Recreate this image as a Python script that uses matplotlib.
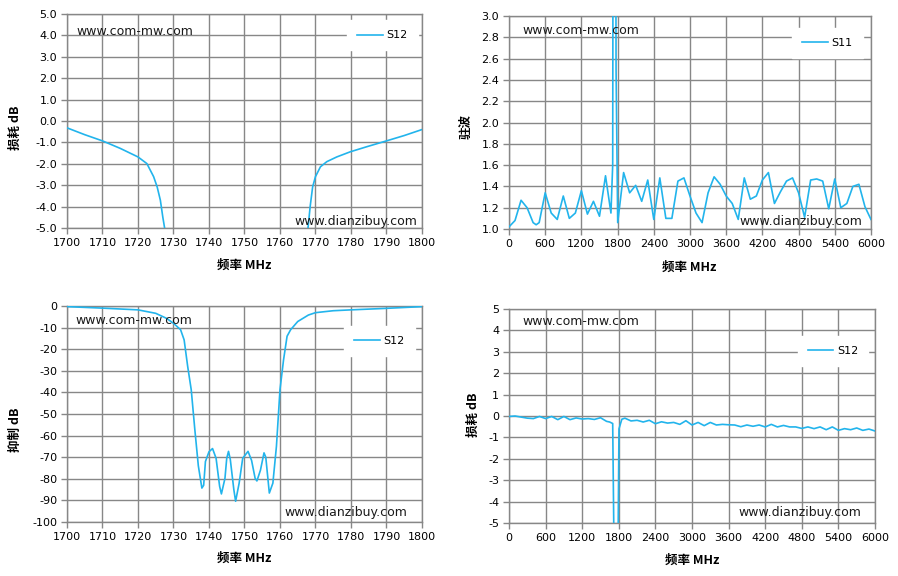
import matplotlib
matplotlib.use('Agg')
import matplotlib.pyplot as plt
import numpy as np

# 左上: S12 损耗 1700-1800 MHz
tl_freq = [1700, 1705, 1710, 1715, 1720, 1722.5, 1724.4, 1725.4, 1726.3, 1727, 1727.5, 1730,
           1750, 1766, 1767.9, 1768.5, 1769.2, 1770, 1771.4, 1773.2, 1776, 1779.8, 1784.5, 1790, 1795, 1800]
tl_s12 = [-0.32, -0.64, -0.93, -1.28, -1.68, -1.99, -2.6, -3.08, -3.7, -4.5, -5.0, -8.0,
          -80.0, -7.0, -5.0, -4.0, -3.08, -2.6, -2.14, -1.9, -1.68, -1.44, -1.2, -0.93, -0.68, -0.4]

# 右上: S11 驻波 0-6000 MHz
tr_freq = [0, 100, 200, 300, 400, 450, 500, 600, 700, 800, 900, 1000, 1100, 1200, 1300, 1400,
           1500, 1600, 1690, 1719, 1725, 1770, 1775, 1802, 1900, 2000, 2100, 2200, 2300, 2400,
           2500, 2600, 2700, 2800, 2900, 3000, 3100, 3200, 3300, 3400, 3500, 3600, 3700, 3800,
           3900, 4000, 4100, 4200, 4300, 4400, 4500, 4600, 4700, 4800, 4900, 5000, 5100, 5200,
           5300, 5400, 5500, 5600, 5700, 5800, 5900, 6000]
tr_s11 = [1.02, 1.08, 1.27, 1.20, 1.06, 1.04, 1.06, 1.34, 1.15, 1.09, 1.31, 1.10, 1.15, 1.36,
          1.14, 1.26, 1.12, 1.50, 1.15, 1.6, 4.0, 4.0, 2.5, 1.06, 1.53, 1.34, 1.41, 1.26, 1.46,
          1.09, 1.48, 1.10, 1.10, 1.45, 1.48, 1.31, 1.15, 1.06, 1.34, 1.49, 1.42, 1.31, 1.24,
          1.09, 1.48, 1.28, 1.31, 1.46, 1.53, 1.24, 1.35, 1.45, 1.48, 1.34, 1.11, 1.46, 1.47,
          1.45, 1.19, 1.47, 1.20, 1.24, 1.40, 1.42, 1.21, 1.09]

# 左下: S12 抑制 1700-1800 MHz
bl_freq = [1700, 1710, 1720, 1725, 1728, 1730, 1732, 1733, 1734, 1735, 1736, 1737, 1738, 1738.5,
           1739, 1740, 1741, 1742, 1743, 1743.5, 1744.5, 1745, 1745.5, 1746, 1747, 1747.5, 1748.5,
           1749.5, 1751, 1752, 1753, 1753.5, 1754.5, 1755.5, 1756, 1757, 1758, 1759, 1760, 1761,
           1762, 1763, 1765, 1768, 1770, 1775, 1780, 1790, 1800]
bl_s12 = [-0.3, -1.0, -1.8, -3.4, -5.7, -8.0, -11.0, -15.7, -28.0, -38.8, -57.0, -74.0, -84.3, -83.0,
          -72.0, -67.5, -66.0, -70.5, -83.5, -87.0, -79.8, -70.5, -67.3, -71.0, -85.0, -90.4, -82.0,
          -70.5, -67.3, -71.5, -79.8, -81.0, -76.0, -68.0, -70.0, -86.6, -82.0, -65.0, -38.8, -25.0,
          -14.0, -11.0, -7.2, -4.2, -3.1, -2.2, -1.8, -1.1, -0.3]

# 右下: S12 损耗 0-6000 MHz
br_freq = [0, 100, 200, 300, 400, 500, 600, 700, 800, 900, 1000, 1100, 1200, 1300, 1400, 1500,
           1600, 1650, 1700, 1728, 1755, 1782, 1803, 1850, 1900, 2000, 2100, 2200, 2300, 2400,
           2500, 2600, 2700, 2800, 2900, 3000, 3100, 3200, 3300, 3400, 3500, 3600, 3700, 3800,
           3900, 4000, 4100, 4200, 4300, 4400, 4500, 4600, 4700, 4800, 4900, 5000, 5100, 5200,
           5300, 5400, 5500, 5600, 5700, 5800, 5900, 6000]
br_s12 = [-0.02, 0.0, -0.05, -0.1, -0.12, -0.02, -0.12, -0.02, -0.17, -0.02, -0.17, -0.09, -0.14,
          -0.12, -0.16, -0.08, -0.25, -0.28, -0.35, -8.0, -80.0, -8.0, -0.6, -0.15, -0.1, -0.23,
          -0.2, -0.28, -0.2, -0.36, -0.27, -0.33, -0.3, -0.39, -0.22, -0.42, -0.3, -0.45, -0.3,
          -0.42, -0.39, -0.41, -0.42, -0.5, -0.42, -0.48, -0.42, -0.51, -0.39, -0.51, -0.44,
          -0.51, -0.51, -0.58, -0.51, -0.59, -0.51, -0.64, -0.51, -0.67, -0.59, -0.64, -0.56,
          -0.67, -0.61, -0.7]

LINEA = '#22b4ec'
GRIS = '#878787'
CJK = ['Noto Sans CJK SC', 'DejaVu Sans']

fig = plt.figure(figsize=(8.98, 5.76), dpi=100)


def panel(rect, x, y, nombre, xlim, xticks, ylim, yticks, yfmt, ylabel,
          ylab_pos, xlab_pos, wm_top, wm_bot, leg_pos):
    ax = fig.add_axes(rect)
    ax.plot(x, y, color=LINEA, lw=1.2, label=nombre, zorder=3)
    ax.set_xlim(*xlim)
    ax.set_ylim(*ylim)
    ax.set_xticks(xticks)
    ax.set_yticks(yticks)
    ax.set_yticklabels([yfmt.format(v) for v in yticks])
    ax.grid(True, color=GRIS, lw=1.0, zorder=0)
    ax.set_axisbelow(True)
    for s in ax.spines.values():
        s.set_color(GRIS)
        s.set_linewidth(1.0)
    ax.tick_params(direction='out', length=4, width=1, color=GRIS,
                   labelsize=8, labelcolor='black', pad=3)
    ax.set_ylabel(ylabel, family=CJK, fontweight='bold', fontsize=9,
                  va='center', ha='center')
    ax.yaxis.set_label_coords(*ylab_pos)
    ax.set_xlabel('频率 MHz', family=CJK, fontweight='bold', fontsize=9,
                  va='center', ha='center')
    ax.xaxis.set_label_coords(*xlab_pos)
    ax.text(wm_top[0], wm_top[1], 'www.com-mw.com', transform=ax.transAxes,
            fontsize=9, color='#1a1a1a', ha='left', va='center', zorder=4)
    ax.text(wm_bot[0], wm_bot[1], 'www.dianzibuy.com', transform=ax.transAxes,
            fontsize=9, color='#1a1a1a', ha='right', va='center', zorder=4)
    leg = ax.legend(loc='center', bbox_to_anchor=leg_pos, fontsize=8,
                    frameon=True, fancybox=False, handlelength=2.3,
                    handletextpad=0.35, borderpad=0.9, borderaxespad=0)
    leg.get_frame().set_facecolor('white')
    leg.get_frame().set_edgecolor('white')
    leg.get_frame().set_alpha(1)
    return ax


panel([0.0746, 0.6042, 0.3953, 0.3715], tl_freq, tl_s12, 'S12',
      (1700, 1800), np.arange(1700, 1801, 10), (-5, 5), np.arange(5, -5.1, -1), '{:.1f}',
      '损耗 dB', (-0.146, 0.467), (0.5, -0.173), (0.028, 0.92), (0.986, 0.028), (0.889, 0.90))

panel([0.5668, 0.6024, 0.4031, 0.3698], tr_freq, tr_s11, 'S11',
      (0, 6000), np.arange(0, 6001, 600), (1.0, 3.0), np.arange(3.0, 0.99, -0.2), '{:.1f}',
      '驻波', (-0.119, 0.479), (0.497, -0.178), (0.036, 0.93), (0.975, 0.033), (0.88, 0.875))

panel([0.0746, 0.09375, 0.3953, 0.37505], bl_freq, bl_s12, 'S12',
      (1700, 1800), np.arange(1700, 1801, 10), (-100, 0), np.arange(0, -101, -10), '{:.0f}',
      '抑制 dB', (-0.146, 0.426), (0.5, -0.167), (0.023, 0.935), (0.96, 0.046), (0.88, 0.838))

panel([0.5668, 0.0920, 0.4076, 0.3715], br_freq, br_s12, 'S12',
      (0, 6000), np.arange(0, 6001, 600), (-5, 5), np.arange(5, -5.1, -1), '{:.0f}',
      '损耗 dB', (-0.098, 0.505), (0.5, -0.173), (0.036, 0.944), (0.964, 0.051), (0.885, 0.804))

fig.savefig('out.png', dpi=100)
